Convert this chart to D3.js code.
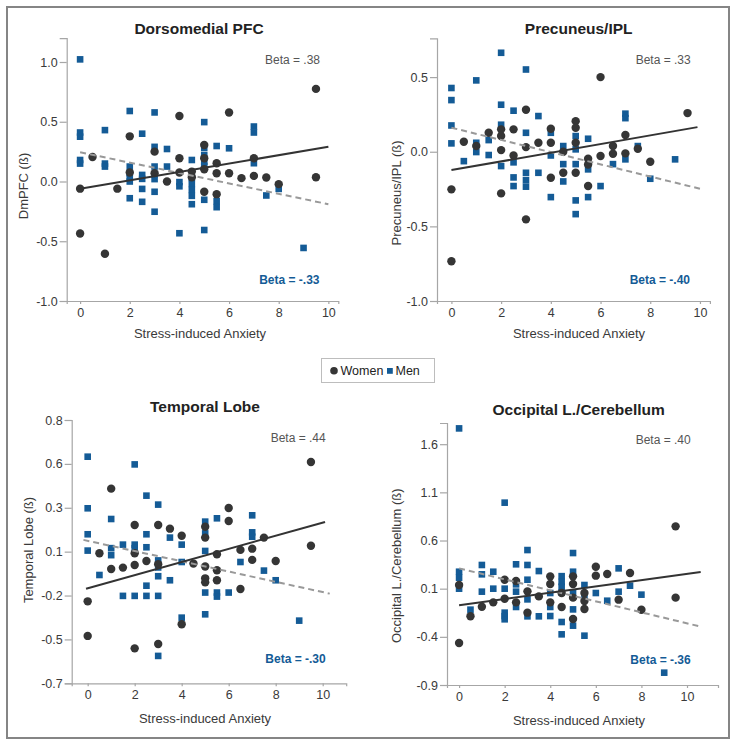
<!DOCTYPE html>
<html><head><meta charset="utf-8">
<script src="https://cdn.jsdelivr.net/npm/d3@7"></script>
<style>
body{margin:0;background:#fff;}
svg{display:block;font-family:"Liberation Sans",Arial,Helvetica,sans-serif;}
</style></head>
<body>
<svg id="chart" width="736" height="746"></svg>
<script>
// ---------- DATA (x = stress-induced anxiety, y = beta) ----------
const panelTitles = ["Dorsomedial PFC", "Precuneus/IPL", "Temporal Lobe", "Occipital L./Cerebellum"];
const yLabels = ["DmPFC (ß)", "Precuneus/IPL (ß)", "Temporal Lobe (ß)", "Occipital L./Cerebellum (ß)"];
const xLabel = "Stress-induced Anxiety";
const womenBeta = ["Beta = .38", "Beta = .33", "Beta = .44", "Beta = .40"];
const menBeta = ["Beta = -.33", "Beta = -.40", "Beta = -.30", "Beta = -.36"];
const xTickValues = [0, 2, 4, 6, 8, 10];

const yTicksDmpfc = [-1, -0.5, 0, 0.5, 1];
const yTickLabelsDmpfc = ["-1.0", "-0.5", "0.0", "0.5", "1.0"];
const yTicksPrecuneus = [-1, -0.5, 0, 0.5];
const yTickLabelsPrecuneus = ["-1.0", "-0.5", "0.0", "0.5"];
const yTicksTemporal = [-0.7, -0.45, -0.2, 0.05, 0.3, 0.55, 0.8];
const yTickLabelsTemporal = ["-0.7", "-0.5", "-0.2", "0.1", "0.3", "0.6", "0.8"];
const yTicksOccipital = [-0.9, -0.4, 0.1, 0.6, 1.1, 1.6];
const yTickLabelsOccipital = ["-0.9", "-0.4", "0.1", "0.6", "1.1", "1.6"];

const dmpfcWomen = [[0,-0.06],[0,-0.435],[0.5,0.205],[1,-0.605],[1.5,-0.06],[2,0.378],[2,0.075],[3,0.25],[3,0.07],[3.5,0.0],[4,0.548],[4,0.195],[4,0.075],[4.5,0.083],[4.5,0.036],[5,0.305],[5,0.195],[5,0.103],[5,-0.086],[5.5,0.153],[5.5,0.069],[5.5,-0.106],[6,0.578],[6,0.069],[6.5,0.028],[7,0.194],[7,0.047],[7.5,0.033],[8,-0.022],[9.5,0.775],[9.5,0.036]];
const dmpfcMen = [[0,1.022],[0,0.41],[0,0.375],[0,0.18],[0,0.15],[1,0.43],[1,0.15],[1,0.125],[2,0.59],[2,0.125],[2,0.07],[2,0.03],[2,0.0],[2,-0.14],[2.5,0.4],[2.5,0.055],[2.5,0.022],[2.5,-0.062],[2.5,-0.17],[3,0.578],[3,0.29],[3,0.125],[3,0.06],[3,0.02],[3,-0.086],[3,-0.253],[3.5,0.272],[3.5,0.125],[4,-0.005],[4,-0.04],[4,-0.433],[4.5,0.18],[4.5,0.03],[4.5,-0.02],[4.5,-0.07],[4.5,-0.12],[4.5,-0.19],[5,0.497],[5,0.28],[5,0.22],[5,0.165],[5,0.13],[5,-0.153],[5,-0.406],[5.5,0.297],[5.5,-0.165],[5.5,-0.215],[6,0.278],[7,0.46],[7,0.41],[7,0.153],[7.5,-0.117],[8,-0.062],[9,-0.556]];

const precWomen = [[0,-0.734],[0,-0.252],[0.5,0.067],[1,0.038],[1.5,0.127],[2,0.15],[2,0.105],[2,0.011],[2,-0.279],[2.5,0.15],[2.5,-0.025],[3,0.281],[3,0.031],[3,-0.453],[3.5,0.06],[4,0.154],[4,0.06],[4,-0.174],[4.5,0.0],[4.5,-0.141],[5,0.205],[5,0.161],[5,0.06],[5,-0.141],[5.5,-0.047],[5.5,-0.085],[5.5,-0.23],[6,0.5],[6,-0.029],[6.5,0.038],[6.5,-0.013],[7,0.112],[7,-0.011],[7.5,0.02],[8,-0.067],[9.5,0.259]];
const precMen = [[0,0.427],[0,0.346],[0,0.176],[0,0.056],[0.5,-0.063],[1,0.478],[1,0.06],[1,-0.002],[1.5,0.078],[1.5,-0.022],[2,0.663],[2,0.315],[2,0.181],[2,-0.096],[2.5,0.275],[2.5,-0.071],[2.5,-0.172],[2.5,-0.23],[3,0.551],[3,0.127],[3,-0.141],[3,-0.19],[3,-0.234],[3.5,0.239],[3.5,-0.141],[4,0.127],[4,-0.025],[4,-0.304],[4.5,0.038],[4.5,-0.083],[4.5,-0.199],[5,0.105],[5,0.016],[5,-0.083],[5,-0.326],[5,-0.418],[5.5,0.087],[5.5,-0.118],[5.5,-0.304],[6,-0.23],[6.5,-0.083],[7,0.255],[7,0.225],[7,-0.051],[7.5,0.038],[8,-0.181],[9,-0.051]];

const tempWomen = [[0,-0.233],[0,-0.43],[0.5,0.041],[1,0.409],[1,-0.049],[1.5,-0.041],[2,0.202],[2,0.041],[2,-0.026],[2,-0.501],[2.5,-0.003],[3,0.202],[3,-0.022],[3,-0.476],[3.5,0.181],[4,0.141],[4,-0.364],[4.5,-0.018],[5,0.192],[5,0.13],[5,-0.035],[5,-0.102],[5,-0.125],[5.5,0.035],[5.5,-0.056],[5.5,-0.113],[6,0.299],[6,0.225],[6.5,0.06],[6.5,-0.163],[7,0.067],[7,0.003],[7.5,0.13],[8,-0.003],[9.5,0.561],[9.5,0.084]];
const tempMen = [[0,0.591],[0,0.297],[0,0.149],[0,0.056],[0.5,-0.083],[1,0.236],[1,0.07],[1,0.03],[1.5,0.09],[1.5,-0.202],[2,0.547],[2,0.09],[2,0.07],[2,-0.202],[2.5,0.369],[2.5,0.149],[2.5,0.075],[2.5,-0.144],[2.5,-0.202],[3,0.318],[3,0.0],[3,-0.04],[3,-0.09],[3,-0.202],[3,-0.544],[3.5,0.13],[3.5,-0.113],[4,0.09],[4,-0.009],[4,-0.326],[5,0.221],[5,0.154],[5,0.054],[5,-0.183],[5,-0.307],[5.5,0.24],[5.5,-0.183],[5.5,-0.206],[6,-0.183],[6.5,-0.009],[7,0.257],[7,0.16],[7,0.135],[7.5,-0.058],[8,-0.113],[9,-0.343]];

const occWomen = [[0,0.138],[0,-0.464],[0.5,-0.187],[1,-0.087],[1.5,-0.042],[2,0.193],[2,-0.004],[2.5,0.18],[2.5,-0.042],[3,0.072],[3,-0.149],[3.5,0.02],[4,0.228],[4,0.148],[4,-0.042],[4.5,0.055],[4.5,-0.09],[5,0.228],[5,0.148],[5,0.007],[5,-0.215],[5.5,0.055],[5.5,-0.028],[5.5,-0.111],[6,0.328],[6,0.235],[6.5,0.252],[7,-0.014],[7.5,0.263],[8,-0.118],[9.5,0.747],[9.5,0.007]];
const occMen = [[0,1.764],[0,0.276],[0,0.214],[0,0.1],[0.5,-0.118],[1,0.346],[1,0.249],[1,0.069],[1.5,0.276],[1.5,0.1],[2,0.993],[2,0.1],[2,-0.149],[2,-0.185],[2,-0.218],[2.5,0.353],[2.5,0.145],[2.5,0.069],[2.5,-0.09],[3,0.501],[3,0.346],[3,0.193],[3,-0.011],[3,-0.187],[3.5,0.283],[3.5,-0.187],[4,0.055],[4,-0.09],[4,-0.184],[4.5,0.23],[4.5,0.17],[4.5,0.12],[4.5,0.06],[4.5,-0.246],[4.5,-0.374],[5,0.47],[5,0.276],[5,0.055],[5,-0.115],[5,-0.284],[5.5,0.138],[5.5,0.02],[5.5,-0.388],[6,0.055],[6.5,-0.025],[7,0.311],[7,0.069],[7.5,0.131],[8,0.038],[9,-0.772]];

// fitted lines: [x0, y0, x1, y1]
const womenFit = [[0,-0.06,10,0.29],[0,-0.123,9.9,0.165],[-0.07,-0.161,10.1,0.219],[0,-0.073,10.6,0.273]];
const menFit = [[0,0.245,10,-0.19],[0,0.161,10,-0.248],[-0.18,0.117,10.3,-0.189],[0,0.311,10.6,-0.294]];

const legendLabels = ["Women", "Men"];

// ---------- LAYOUT ----------
const layouts = [
  {xd:[-0.54,10.4], xr:[66.7,338.3], yd:[-1,1.2], yr:[301,38.1], yt:yTicksDmpfc, ytl:yTickLabelsDmpfc, w:dmpfcWomen, m:dmpfcMen,
   title:[199,33.5], xl:[200,338], yl:[23,186], bw:[320,64], bm:[319.5,284]},
  {xd:[-0.58,10.4], xr:[437,709.9], yd:[-1,0.76], yr:[301,38.3], yt:yTicksPrecuneus, ytl:yTickLabelsPrecuneus, w:precWomen, m:precMen,
   title:[578.7,33.5], xl:[579,338], yl:[396.3,193], bw:[690.7,64], bm:[690,284]},
  {xd:[-0.68,11], xr:[71.7,346.2], yd:[-0.7,0.8], yr:[683.3,420], yt:yTicksTemporal, ytl:yTickLabelsTemporal, w:tempWomen, m:tempMen,
   title:[205,412], xl:[205,722.5], yl:[28,550], bw:[325.7,442], bm:[325.7,662.5]},
  {xd:[-0.53,11.36], xr:[447,718], yd:[-0.9,1.82], yr:[685,423], yt:yTicksOccipital, ytl:yTickLabelsOccipital, w:occWomen, m:occMen,
   title:[578.7,414.5], xl:[579,725], yl:[396,565.7], bw:[690.7,443.5], bm:[690.7,664]}
];

const C_WOMEN = "#353535", C_MEN = "#145b96", C_AXIS = "#a6a6a6", C_TEXT = "#3a3a3a";
const svg = d3.select("#chart");

// outer frame
svg.append("rect").attr("x",7).attr("y",7).attr("width",722).attr("height",731)
  .attr("fill","none").attr("stroke","#858585").attr("stroke-width",2);

layouts.forEach((L, i) => {
  const x = d3.scaleLinear().domain(L.xd).range(L.xr);
  const y = d3.scaleLinear().domain(L.yd).range(L.yr);
  const g = svg.append("g");

  // x axis
  const xa = g.append("g").attr("transform", `translate(0,${L.yr[0]})`)
    .call(d3.axisBottom(x).tickValues(xTickValues).tickSize(3).tickPadding(4).tickFormat(d3.format("d")));
  // y axis
  const ya = g.append("g").attr("transform", `translate(${L.xr[0]},0)`)
    .call(d3.axisLeft(y).tickValues(L.yt).tickSize(7).tickPadding(2).tickFormat((d, k) => L.ytl[k]));
  [xa, ya].forEach(a => {
    a.select(".domain").attr("stroke", C_AXIS).attr("stroke-width", 1.2);
    a.selectAll(".tick line").attr("stroke", C_AXIS).attr("stroke-width", 1.2);
    a.selectAll(".tick text").attr("fill", C_TEXT).style("font-size", "12.5px")
      .style("font-family", '"Liberation Sans",Arial,sans-serif');
  });

  // men squares
  const s = 6.6;
  g.append("g").selectAll("rect").data(L.m).join("rect")
    .attr("x", d => x(d[0]) - s/2).attr("y", d => y(d[1]) - s/2)
    .attr("width", s).attr("height", s).attr("fill", C_MEN);
  // women circles
  g.append("g").selectAll("circle").data(L.w).join("circle")
    .attr("cx", d => x(d[0])).attr("cy", d => y(d[1])).attr("r", 4.2).attr("fill", C_WOMEN);

  // fit lines
  const mf = menFit[i], wf = womenFit[i];
  g.append("line").attr("x1", x(mf[0])).attr("y1", y(mf[1])).attr("x2", x(mf[2])).attr("y2", y(mf[3]))
    .attr("stroke", "#999").attr("stroke-width", 2).attr("stroke-dasharray", "6,4");
  g.append("line").attr("x1", x(wf[0])).attr("y1", y(wf[1])).attr("x2", x(wf[2])).attr("y2", y(wf[3]))
    .attr("stroke", "#333").attr("stroke-width", 2);

  // texts
  g.append("text").attr("x", L.title[0]).attr("y", L.title[1]).attr("text-anchor", "middle")
    .style("font-size", "15.5px").style("font-weight", "bold").attr("fill", "#222").text(panelTitles[i]);
  g.append("text").attr("x", L.xl[0]).attr("y", L.xl[1]).attr("text-anchor", "middle")
    .style("font-size", "13px").attr("fill", C_TEXT).text(xLabel);
  g.append("text").attr("transform", `translate(${L.yl[0] + 4.5},${L.yl[1]}) rotate(-90)`).attr("text-anchor", "middle")
    .style("font-size", "13px").attr("fill", C_TEXT).text(yLabels[i]);
  g.append("text").attr("x", L.bw[0]).attr("y", L.bw[1]).attr("text-anchor", "end")
    .style("font-size", "12px").attr("fill", "#555").text(womenBeta[i]);
  g.append("text").attr("x", L.bm[0]).attr("y", L.bm[1]).attr("text-anchor", "end")
    .style("font-size", "12px").style("font-weight", "bold").attr("fill", C_MEN).text(menBeta[i]);
});

// legend
const lg = svg.append("g");
lg.append("rect").attr("x", 321.5).attr("y", 358.5).attr("width", 113).attr("height", 24)
  .attr("fill", "#fff").attr("stroke", "#bdbdbd").attr("stroke-width", 1);
lg.append("circle").attr("cx", 334).attr("cy", 370.7).attr("r", 3.8).attr("fill", C_WOMEN);
lg.append("text").attr("x", 340.5).attr("y", 375).style("font-size", "12.5px").attr("fill", "#222").text(legendLabels[0]);
lg.append("rect").attr("x", 387).attr("y", 368).attr("width", 5.8).attr("height", 5.8).attr("fill", C_MEN);
lg.append("text").attr("x", 395.5).attr("y", 375).style("font-size", "12.5px").attr("fill", "#222").text(legendLabels[1]);
</script>
</body></html>
